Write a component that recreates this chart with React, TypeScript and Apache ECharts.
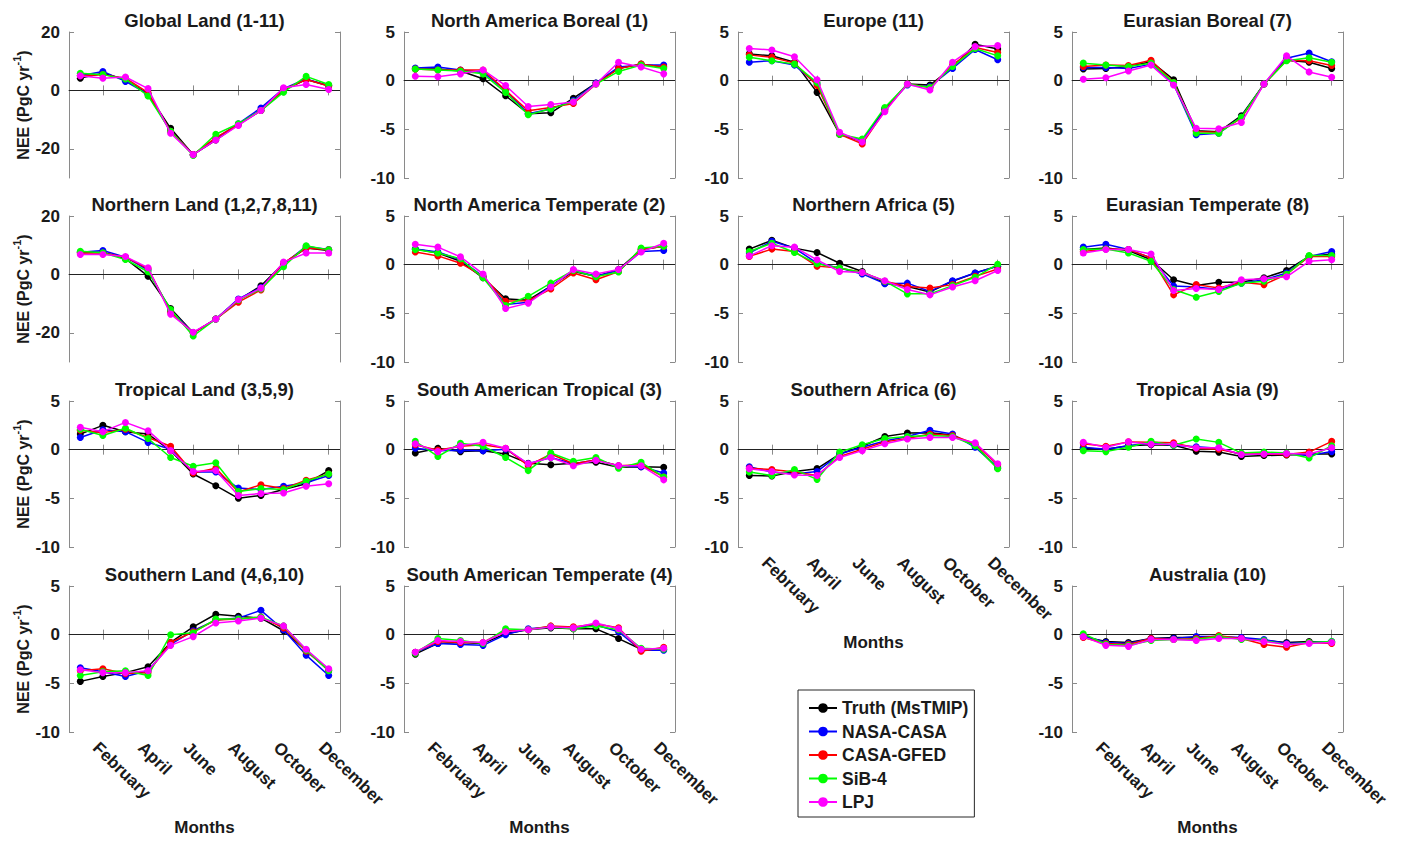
import React, { useEffect, useRef } from "react";
import * as echarts from "echarts";

const months = ["January", "February", "March", "April", "May", "June", "July", "August", "September", "October", "November", "December"];
const models = ["Truth (MsTMIP)", "NASA-CASA", "CASA-GFED", "SiB-4", "LPJ"];
const modelColors = ["#000000", "#0000ff", "#ff0000", "#00ff00", "#ff00ff"];

// rows: Truth, NASA-CASA, CASA-GFED, SiB-4, LPJ
const globalLand = [
  [4.2, 5.9, 3.7, -1.3, -13, -22, -17, -11.6, -6.9, 0.1, 3.7, 1.7],
  [5, 6.5, 3.1, -1.3, -14, -22, -16.4, -11.4, -6, 0.6, 3.9, 1.5],
  [5, 5.4, 4.2, -0.8, -14, -22, -16.2, -11.7, -6.9, 0.3, 3.7, 1.5],
  [5.9, 5.4, 3.9, -1.9, -14, -22.3, -15, -11.4, -6.9, -0.6, 4.8, 2],
  [5, 4.2, 4.6, 0.6, -14.7, -22, -17, -12, -6.9, 0.9, 2, 0.3],
];
const northAmericaBoreal = [
  [1.2, 1.2, 1.0, 0.2, -1.55, -3.4, -3.3, -1.8, -0.25, 1.25, 1.7, 1.4],
  [1.3, 1.4, 1.1, 0.85, -1.0, -3.4, -2.9, -2.05, -0.25, 1.4, 1.6, 1.6],
  [1.2, 1.1, 1.1, 1.1, -1.0, -3.1, -2.75, -2.35, -0.35, 1.25, 1.7, 1.4],
  [1.2, 1.1, 1.0, 0.7, -1.2, -3.5, -2.9, -2.15, -0.35, 0.95, 1.6, 1.25],
  [0.45, 0.4, 0.7, 1.1, -0.5, -2.65, -2.45, -2.2, -0.35, 1.9, 1.4, 0.7],
];
const europe = [
  [2.75, 2.55, 1.9, -1.2, -5.5, -6.25, -2.9, -0.35, -0.45, 1.35, 3.75, 3.25],
  [1.9, 2.05, 1.6, -0.35, -5.5, -6.15, -2.9, -0.45, -0.6, 1.25, 3.2, 2.15],
  [2.65, 2.4, 1.8, -0.5, -5.5, -6.5, -3.1, -0.35, -0.7, 1.6, 3.4, 2.9],
  [2.4, 2.05, 1.7, -0.2, -5.5, -6.0, -2.75, -0.35, -0.7, 1.45, 3.3, 2.55],
  [3.3, 3.15, 2.45, 0.1, -5.3, -6.3, -3.2, -0.35, -0.95, 1.9, 3.5, 3.6],
];
const eurasianBoreal = [
  [1.2, 1.25, 1.45, 1.95, 0.1, -5.15, -5.25, -3.6, -0.35, 2.1, 1.9, 1.25],
  [1.35, 1.35, 1.25, 1.7, -0.35, -5.55, -5.4, -3.75, -0.35, 2.3, 2.85, 1.95],
  [1.45, 1.6, 1.55, 2.1, -0.2, -5.25, -5.3, -3.85, -0.35, 2.1, 2.05, 1.55],
  [1.8, 1.6, 1.45, 1.8, -0.2, -5.4, -5.4, -3.75, -0.35, 2.05, 2.35, 1.9],
  [0.15, 0.3, 1.0, 1.6, -0.45, -4.9, -4.95, -4.3, -0.35, 2.55, 0.9, 0.35],
];
const northernLand = [
  [7.4, 7.6, 5.4, -0.6, -11.7, -20, -15.3, -8.8, -3.9, 3.7, 9, 8.2],
  [7.6, 8.2, 5.9, 1.5, -12.5, -20, -15.3, -8.4, -4.5, 3.5, 9.6, 8.5],
  [7.3, 7.3, 5.9, 2, -13, -20, -15.3, -9.5, -5.3, 3.9, 9, 8.4],
  [7.9, 7.4, 5.1, 0.9, -12, -21.1, -15.3, -8.8, -5, 2.6, 9.8, 8.4],
  [6.8, 6.8, 6.1, 2.3, -13.6, -19.8, -15.3, -8.6, -4.7, 4.2, 7.3, 7.3],
];
const northAmericaTemperate = [
  [1.6, 1.2, 0.35, -1.35, -3.5, -3.65, -2.2, -0.7, -1.2, -0.5, 1.55, 1.9],
  [1.6, 1.3, 0.5, -1.2, -4.1, -3.85, -2.2, -0.6, -1.2, -0.6, 1.35, 1.45],
  [1.3, 0.9, 0.15, -1.2, -3.75, -3.7, -2.5, -0.85, -1.55, -0.7, 1.55, 1.9],
  [1.55, 1.2, 0.6, -1.35, -4.2, -3.25, -1.9, -0.6, -1.25, -0.75, 1.7, 1.9],
  [2.1, 1.8, 0.8, -0.95, -4.5, -3.95, -2.3, -0.5, -0.95, -0.5, 1.3, 2.2],
];
const northernAfrica = [
  [1.6, 2.5, 1.7, 1.25, 0.15, -0.7, -1.9, -2.25, -2.8, -1.7, -0.85, -0.15],
  [1.2, 2.4, 1.7, 0.15, -0.35, -0.95, -1.95, -1.9, -2.75, -1.65, -0.85, -0.15],
  [0.85, 1.6, 1.35, -0.15, -0.35, -0.8, -1.7, -2.25, -2.4, -2.05, -1.2, -0.45],
  [1.35, 2.2, 1.25, 0.1, -0.35, -0.8, -1.7, -3.0, -3.0, -2.15, -1.3, 0.05],
  [0.9, 1.95, 1.8, 0.5, -0.7, -0.8, -1.65, -2.55, -3.1, -2.3, -1.65, -0.6],
];
const eurasianTemperate = [
  [1.55, 1.7, 1.45, 0.5, -1.55, -2.15, -1.8, -1.8, -1.35, -0.6, 0.85, 1.1],
  [1.8, 2.1, 1.55, 0.7, -2.2, -2.3, -2.55, -1.9, -1.55, -0.85, 0.85, 1.35],
  [1.35, 1.6, 1.55, 0.7, -3.1, -2.05, -2.4, -1.8, -2.05, -1.0, 0.85, 0.85],
  [1.55, 1.6, 1.2, 0.35, -2.55, -3.35, -2.75, -1.9, -1.7, -1.0, 0.95, 0.95],
  [1.2, 1.55, 1.55, 1.1, -2.65, -2.45, -2.55, -1.55, -1.45, -1.25, 0.35, 0.5],
];
const tropicalLand = [
  [1.6, 2.5, 1.85, 1.6, -0.1, -2.5, -3.7, -5.0, -4.7, -4.1, -3.5, -2.15],
  [1.25, 2.05, 1.85, 0.75, 0.05, -2.3, -2.3, -3.95, -4.1, -3.75, -3.4, -2.65],
  [2.0, 1.75, 2.1, 1.25, 0.35, -2.4, -1.9, -4.35, -3.6, -4.0, -3.15, -2.5],
  [2.1, 1.45, 2.2, 1.15, -0.8, -1.7, -1.35, -4.3, -4.0, -4.1, -3.25, -2.5],
  [2.3, 1.85, 2.8, 1.95, -0.1, -2.25, -2.15, -4.7, -4.5, -4.45, -3.75, -3.5],
];
const southAmericanTropical = [
  [-0.35, 0.15, -0.2, -0.1, -0.45, -1.4, -1.55, -1.4, -1.3, -1.8, -1.75, -1.8],
  [0.15, -0.1, -0.05, -0.1, 0.05, -1.45, -0.8, -1.45, -1.05, -1.65, -1.75, -2.4],
  [0.5, -0.05, 0.35, 0.5, 0.15, -1.65, -0.45, -1.45, -1.05, -1.65, -1.55, -2.8],
  [0.85, -0.7, 0.65, 0.35, -0.8, -2.15, -0.35, -1.2, -0.8, -1.9, -1.3, -2.8],
  [0.6, -0.2, 0.4, 0.75, 0.15, -1.45, -0.8, -1.65, -1.1, -1.65, -1.65, -3.1],
];
const southernAfrica = [
  [-2.65, -2.7, -2.25, -1.95, -0.45, 0.35, 1.35, 1.7, 1.75, 1.5, 0.4, -1.9],
  [-1.75, -2.3, -2.5, -2.25, -0.45, 0.25, 0.9, 1.35, 2.0, 1.6, 0.25, -1.8],
  [-1.9, -2.05, -2.3, -2.65, -0.7, 0.05, 0.8, 1.15, 1.6, 1.45, 0.6, -1.55],
  [-2.3, -2.65, -2.05, -3.05, -0.25, 0.5, 1.15, 1.35, 1.45, 1.35, 0.4, -1.95],
  [-1.95, -2.25, -2.6, -2.65, -0.8, -0.1, 0.6, 1.1, 1.25, 1.25, 0.7, -1.45],
];
const tropicalAsia = [
  [0.15, 0.05, 0.4, 0.5, 0.45, -0.15, -0.25, -0.7, -0.6, -0.55, -0.45, -0.45],
  [0.25, 0.05, 0.4, 0.7, 0.45, 0.3, 0.15, -0.5, -0.45, -0.45, -0.6, -0.2],
  [0.6, 0.35, 0.8, 0.75, 0.7, 0.15, 0.05, -0.45, -0.45, -0.5, -0.25, 0.85],
  [-0.1, -0.2, 0.25, 0.85, 0.45, 1.1, 0.75, -0.35, -0.25, -0.35, -0.85, 0.4],
  [0.75, 0.25, 0.8, 0.55, 0.55, 0.2, 0.2, -0.5, -0.45, -0.4, -0.45, 0.2],
];
const southernLand = [
  [-4.8, -4.3, -3.9, -3.3, -0.8, 0.8, 2.1, 1.9, 1.7, 0.4, -1.6, -3.7],
  [-3.4, -3.8, -4.3, -3.7, -1.0, 0.4, 1.5, 1.7, 2.5, 0.5, -2.1, -4.2],
  [-3.7, -3.5, -4.0, -3.9, -0.8, 0.3, 1.5, 1.6, 1.8, 0.7, -1.7, -3.6],
  [-4.2, -3.8, -3.7, -4.2, 0.0, 0.2, 1.6, 1.6, 1.8, 0.9, -1.6, -3.7],
  [-3.6, -3.9, -3.9, -3.7, -1.1, -0.2, 1.2, 1.4, 1.7, 0.9, -1.5, -3.5],
];
const southAmericanTemperate = [
  [-2.0, -0.9, -0.8, -0.9, 0.1, 0.5, 0.7, 0.6, 0.6, -0.4, -1.5, -1.5],
  [-1.8, -0.9, -1.0, -1.1, 0.0, 0.6, 0.8, 0.7, 1.0, 0.3, -1.6, -1.6],
  [-1.8, -0.7, -0.8, -0.8, 0.4, 0.5, 0.9, 0.8, 1.1, 0.7, -1.7, -1.3],
  [-1.9, -0.4, -0.6, -0.9, 0.6, 0.5, 0.8, 0.6, 0.9, 0.5, -1.4, -1.5],
  [-1.8, -0.6, -0.7, -0.8, 0.3, 0.5, 0.8, 0.7, 1.2, 0.6, -1.5, -1.4],
];
const australia = [
  [-0.2, -0.7, -0.8, -0.4, -0.3, -0.3, -0.3, -0.4, -0.6, -0.8, -0.7, -0.8],
  [-0.1, -0.8, -0.9, -0.4, -0.4, -0.2, -0.2, -0.3, -0.5, -0.9, -0.8, -0.7],
  [-0.3, -0.9, -1.0, -0.4, -0.5, -0.4, -0.1, -0.4, -1.0, -1.3, -0.8, -0.9],
  [0.1, -1.0, -1.1, -0.6, -0.5, -0.5, -0.2, -0.5, -0.6, -1.0, -0.8, -0.7],
  [-0.2, -1.1, -1.2, -0.5, -0.5, -0.6, -0.4, -0.4, -0.7, -1.0, -0.9, -0.8],
];

const panelTitles = [
  "Global Land (1-11)", "North America Boreal (1)", "Europe (11)", "Eurasian Boreal (7)",
  "Northern Land (1,2,7,8,11)", "North America Temperate (2)", "Northern Africa (5)", "Eurasian Temperate (8)",
  "Tropical Land (3,5,9)", "South American Tropical (3)", "Southern Africa (6)", "Tropical Asia (9)",
  "Southern Land (4,6,10)", "South American Temperate (4)", "Australia (10)",
];
const panelData = [
  globalLand, northAmericaBoreal, europe, eurasianBoreal,
  northernLand, northAmericaTemperate, northernAfrica, eurasianTemperate,
  tropicalLand, southAmericanTropical, southernAfrica, tropicalAsia,
  southernLand, southAmericanTemperate, australia,
];
const bigTicks = [-20, 0, 20];
const smallTicks = [-10, -5, 0, 5];

// layout
const panelRow = [0, 0, 0, 0, 1, 1, 1, 1, 2, 2, 2, 2, 3, 3, 3];
const panelCol = [0, 1, 2, 3, 0, 1, 2, 3, 0, 1, 2, 3, 0, 1, 3];
const bigPanels = [0, 4];
const labelledPanels = [10, 12, 13, 14];
const colLeft = [69, 404, 738, 1072];
const rowTop = [32, 216, 401, 586];
const W = 271;
const H = 146;

const FONT = '"Liberation Sans", Arial, Helvetica, sans-serif';
const TEXT = "#1a1a1a";
const BOX = "#8a8a8a";

export default function App() {
  const ref = useRef<HTMLDivElement>(null);
  useEffect(() => {
    if (!ref.current) return;
    const chart = echarts.init(ref.current, null, { renderer: "svg" });
    const grids: any[] = [];
    const xAxes: any[] = [];
    const yAxes: any[] = [];
    const series: any[] = [];
    const graphics: any[] = [];
    const every2 = (i: number) => i % 2 === 1;

    panelData.forEach((data, p) => {
      const left = colLeft[panelCol[p]];
      const top = rowTop[panelRow[p]];
      const big = bigPanels.includes(p);
      const showX = labelledPanels.includes(p);
      grids.push({ left, top, width: W, height: H, show: false, containLabel: false, outerBoundsMode: "none" });
      const xBase = {
        type: "category",
        gridIndex: p,
        data: months,
        boundaryGap: true,
        axisLine: { show: true, lineStyle: { color: BOX, width: 1 } },
        axisTick: { show: true, inside: true, length: 5, alignWithLabel: true, interval: every2, lineStyle: { color: BOX, width: 1 } },
        splitLine: { show: false },
      };
      xAxes.push({
        ...xBase,
        position: "bottom",
        axisLabel: {
          show: showX, interval: every2, rotate: -44, margin: 20,
          padding: [0, 0, 0, -10],
          fontSize: 17, fontWeight: "bold", color: TEXT, fontFamily: FONT,
        },
        name: showX ? "Months" : "",
        nameLocation: "middle",
        nameGap: 87,
        nameTextStyle: { fontSize: 17, fontWeight: "bold", color: TEXT, fontFamily: FONT },
      });
      xAxes.push({ ...xBase, position: "top", axisLabel: { show: false } });

      const ticks = big ? bigTicks : smallTicks;
      const yBase = {
        type: "value",
        gridIndex: p,
        min: big ? -30 : -10,
        max: big ? 20 : 5,
        interval: big ? 10 : 5,
        axisLine: { show: true, lineStyle: { color: BOX, width: 1 } },
        axisTick: { show: true, inside: true, length: 5, customValues: ticks, lineStyle: { color: BOX, width: 1 } },
        splitLine: { show: false },
      };
      yAxes.push({
        ...yBase,
        position: "left",
        axisLabel: {
          show: true, customValues: ticks, margin: 9,
          formatter: (v: number) => (ticks.includes(v) ? String(v) : ""),
          fontSize: 17, fontWeight: "bold", color: TEXT, fontFamily: FONT,
        },
        name: panelCol[p] === 0 ? "{b|NEE (PgC yr}{s|-1}{b|)}" : "",
        nameLocation: "middle",
        nameGap: 38,
        nameRotate: 90,
        nameTextStyle: {
          color: TEXT, fontFamily: FONT, fontWeight: "bold", fontSize: 16,
          rich: {
            b: { fontSize: 16, fontWeight: "bold", fontFamily: FONT, color: TEXT, verticalAlign: "bottom", lineHeight: 20 },
            s: { fontSize: 11, fontWeight: "bold", fontFamily: FONT, color: TEXT, verticalAlign: "top", lineHeight: 11 },
          },
        },
      });
      yAxes.push({ ...yBase, position: "right", axisLabel: { show: false } });

      data.forEach((vals, m) => {
        const s: any = {
          type: "line",
          name: models[m],
          xAxisIndex: 2 * p,
          yAxisIndex: 2 * p,
          data: vals,
          symbol: "circle",
          symbolSize: 7,
          showSymbol: true,
          lineStyle: { color: modelColors[m], width: 1.5 },
          itemStyle: { color: modelColors[m] },
          emphasis: { disabled: true },
          z: 3 + m,
        };
        if (m === 0) {
          s.markLine = {
            silent: true,
            symbol: "none",
            label: { show: false },
            lineStyle: { color: "#222", width: 1, type: "solid" },
            data: [{ yAxis: 0 }],
            z: 1,
          };
        }
        series.push(s);
      });

      graphics.push({
        type: "text",
        x: left + W / 2,
        y: top - 12,
        style: {
          text: panelTitles[p],
          fill: TEXT,
          fontSize: 18.5,
          fontWeight: "bold",
          fontFamily: FONT,
          align: "center",
          verticalAlign: "middle",
        },
      });
    });

    chart.setOption({
      animation: false,
      backgroundColor: "#ffffff",
      grid: grids,
      xAxis: xAxes,
      yAxis: yAxes,
      series,
      graphic: graphics,
      legend: {
        data: models,
        orient: "vertical",
        left: 798,
        top: 690,
        itemWidth: 28,
        itemHeight: 12,
        itemGap: 5.5,
        padding: [9, 6, 6, 10],
        borderColor: "#262626",
        borderWidth: 1,
        backgroundColor: "#ffffff",
        selectedMode: false,
        textStyle: { fontSize: 17.5, fontWeight: "bold", color: TEXT, fontFamily: FONT },
      },
      tooltip: { show: false },
    });
    return () => chart.dispose();
  }, []);
  return <div ref={ref} style={{ position: "absolute", left: 0, top: 0, width: 1402, height: 841, background: "#fff" }} />;
}
